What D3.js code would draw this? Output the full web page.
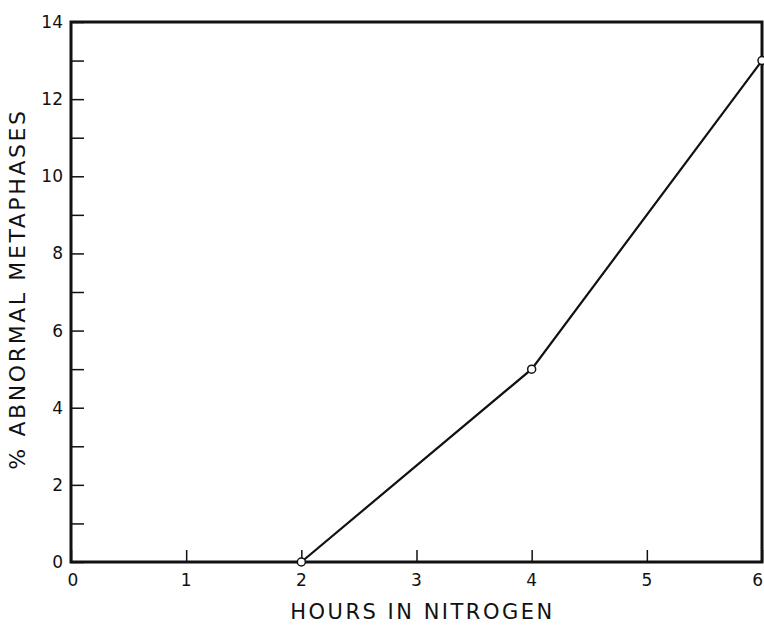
<!DOCTYPE html>
<html>
<head>
<meta charset="utf-8">
<script src="https://cdn.jsdelivr.net/npm/d3@7"></script>
<style>
  body { margin: 0; background: #fff; }
  text { font-family: "DejaVu Sans", sans-serif; fill: #111; }
</style>
</head>
<body>
<div class="chart"></div>
<script>
// values
const hours = [2, 4, 6];
const abnormal = [0, 5, 13];
const xTicks = [0, 1, 2, 3, 4, 5, 6];
const yTicks = [0, 1, 2, 3, 4, 5, 6, 7, 8, 9, 10, 11, 12, 13, 14];
const yLabels = [0, 2, 4, 6, 8, 10, 12, 14];

const W = 764, H = 625;
const margin = { top: 22, right: 2, bottom: 63, left: 71 };
const width = W - margin.left - margin.right;
const height = H - margin.top - margin.bottom;

const svg = d3.select('.chart').append('svg')
	.attr('width', W).attr('height', H)
	.append('g')
	.attr('transform', `translate(${margin.left},${margin.top})`);

const x = d3.scaleLinear().domain([0, 6]).range([0, width]);
const y = d3.scaleLinear().domain([0, 14]).range([height, 0]);

//inward ticks, labels drawn separately
const xAxis = d3.axisTop(x).tickValues(xTicks).tickSize(12).tickFormat('');
const yAxis = d3.axisRight(y).tickValues(yTicks).tickSize(13).tickFormat('');

svg.append('g').attr('transform', `translate(0,${height})`).call(xAxis)
	.call(g => g.select('.domain').remove())
	.selectAll('line').attr('stroke', '#111').attr('stroke-width', 1.5);
svg.append('g').call(yAxis)
	.call(g => g.select('.domain').remove())
	.selectAll('line').attr('stroke', '#111').attr('stroke-width', 1.5);

//frame
svg.append('rect')
	.attr('x', 0).attr('y', 0)
	.attr('width', width).attr('height', height)
	.attr('fill', 'none').attr('stroke', '#111').attr('stroke-width', 3);

//tick labels (last one kept inside the page edge)
svg.selectAll('.xlab').data(xTicks).enter().append('text')
	.attr('class', 'xlab')
	.attr('x', d => x(d) + (d === 0 ? 2 : 0) + (d === 6 ? 1 : 0))
	.attr('y', height + 24)
	.attr('text-anchor', d => d === 6 ? 'end' : 'middle')
	.style('font-size', '17px')
	.text(d => d);

svg.selectAll('.ylab').data(yLabels).enter().append('text')
	.attr('class', 'ylab')
	.attr('x', -8)
	.attr('y', d => y(d) + 6)
	.attr('text-anchor', 'end')
	.style('font-size', '17px')
	.text(d => d);

//axis titles
svg.append('text')
	.attr('x', width / 2 + 6)
	.attr('y', height + 57)
	.attr('text-anchor', 'middle')
	.style('font-size', '21px')
	.style('letter-spacing', '2.5px')
	.text('HOURS IN NITROGEN');

svg.append('text')
	.attr('transform', `translate(${-46},${height / 2 - 3}) rotate(-90)`)
	.attr('text-anchor', 'middle')
	.style('font-size', '22px')
	.style('letter-spacing', '2.6px')
	.text('% ABNORMAL METAPHASES');

const pts = hours.map((h, i) => ({ h: h, v: abnormal[i] }));

const line = d3.line().x(d => x(d.h)).y(d => y(d.v));

svg.append('path')
	.datum(pts)
	.attr('d', line)
	.attr('fill', 'none')
	.attr('stroke', '#111')
	.attr('stroke-width', 2.2);

svg.selectAll('circle').data(pts).enter().append('circle')
	.attr('cx', d => x(d.h))
	.attr('cy', d => y(d.v))
	.attr('r', 4)
	.attr('fill', '#fff')
	.attr('stroke', '#111')
	.attr('stroke-width', 1.5);
</script>
</body>
</html>
